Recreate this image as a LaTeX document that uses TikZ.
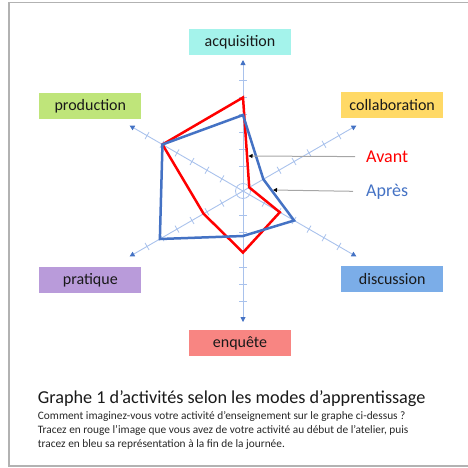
\documentclass[tikz,border=0pt]{standalone}
\usepackage{fontspec}
\setmainfont{Carlito}
\usepackage{xcolor}
\usepackage{tikz}
\usetikzlibrary{arrows.meta, positioning, calc}
\definecolor{avant}{HTML}{FF0000}
\definecolor{apres}{HTML}{4472C4}
\definecolor{axisline}{HTML}{A9C2EC}
\definecolor{axistip}{HTML}{4472C4}
\definecolor{acqfill}{HTML}{A4F3EB}
\definecolor{colfill}{HTML}{FFD966}
\definecolor{disfill}{HTML}{7BADE8}
\definecolor{enqfill}{HTML}{F88582}
\definecolor{prafill}{HTML}{B99BDA}
\definecolor{profill}{HTML}{BFE57A}

\begin{document}
\begin{tikzpicture}[x=1pt, y=-1pt,
  modebox/.style={minimum width=102pt, minimum height=26pt, inner sep=0pt, text=black!90, font=\fontsize{16}{18}\selectfont},
  axis/.style={draw=axisline, line width=0.9pt, -{Triangle[length=5pt, width=5pt, color=axistip]}},
  tickmark/.style={draw=axisline, line width=0.8pt},
  profile/.style={line width=2.5pt},
  pointer/.style={draw=black!35, line width=1pt, -{Triangle[length=4pt, width=4pt, color=black]}},
  capline/.style={anchor=base west, inner sep=0pt, text=black!85, font=\fontsize{11.35}{14}\selectfont}]
  \useasboundingbox (0,0) rectangle (468,467);
  % frame
  \draw[black!30, line width=1.5pt] (470,2.7) -- (9,2.7) -- (9,466) -- (470,466);

  % mode labels
  \node[modebox, fill=acqfill] (acquisition) at (240,42) {acquisition};
  \node[modebox, fill=colfill] (collaboration) at (392.2,104.7) {collaboration};
  \node[modebox, fill=disfill] (discussion) at (392.2,279.3) {discussion};
  \node[modebox, fill=enqfill] (enquete) at (240,343) {enquête};
  \node[modebox, fill=prafill] (pratique) at (90.3,280) {pratique};
  \node[modebox, fill=profill] (production) at (90.3,106) {production};

  % radar
  \begin{scope}[shift={(243,191)}, y=1pt]
    \coordinate (O) at (0,0);
    \foreach \name/\ang in {acq/90, col/30, dis/-30, enq/-90, pra/210, pro/150}{
      \coordinate (\name End) at (\ang:131);
      \draw[axis] (O) -- (\name End);
      \foreach \k in {1,...,6}
        \draw[tickmark] ($(\ang:{7+17.3*\k})+(\ang+90:4)$) -- ($(\ang:{7+17.3*\k})+(\ang-90:4)$);
    }
    \draw[tickmark] (O) circle (7.5);

    % Avant
    \foreach \name/\ang/\r in {acq/90/93.5, col/30/7.2, dis/-30/42.5, enq/-90/61.5, pra/210/45.5, pro/150/93}
      \coordinate (av\name) at (\ang:\r);
    \draw[profile, avant] (avacq) -- (avcol) -- (avdis) -- (avenq) -- (avpra) -- (avpro) -- cycle;

    % Apres
    \foreach \name/\ang/\r in {acq/90/76, col/30/23.5, dis/-30/59, enq/-90/45, pra/210/96, pro/150/93}
      \coordinate (ap\name) at (\ang:\r);
    \draw[profile, apres] (apacq) -- (apcol) -- (apdis) -- (apenq) -- (appra) -- (appro) -- cycle;
  \end{scope}

  % legend
  \node[anchor=base west, inner sep=0pt, text=avant, font=\fontsize{18}{20}\selectfont] (avantlbl) at (366,162.3) {Avant};
  \node[anchor=base west, inner sep=0pt, text=apres, font=\fontsize{18}{20}\selectfont] (apreslbl) at (366,196) {Après};
  \coordinate (avantTip) at (248.5,156);
  \coordinate (apresTip) at (273,190);
  \draw[pointer] ([xshift=-11pt]avantlbl.west) -- (avantTip);
  \draw[pointer] ([xshift=-13pt]apreslbl.west) -- (apresTip);

  % caption
  \node[anchor=base west, inner sep=0pt, text=black!90, font=\fontsize{18.2}{21}\selectfont] (titre) at (37.7,403.3) {Graphe 1 d’activités selon les modes d’apprentissage};
  \node[capline] (question) at (37.7,419) {Comment imaginez-vous votre activité d’enseignement sur le graphe ci-dessus ?};
  \node[capline] (consigne) at (37.7,433.3) {Tracez en rouge l’image que vous avez de votre activité au début de l’atelier, puis};
  \node[capline] (consigneb) at (37.7,447.7) {tracez en bleu sa représentation à la fin de la journée.};
\end{tikzpicture}
\end{document}
